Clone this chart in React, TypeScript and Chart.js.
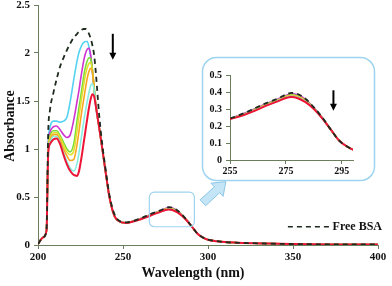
import React, { useEffect, useRef } from "react";
import { Chart, registerables } from "chart.js";

Chart.register(...registerables);

// ---------- data ----------
const WAVELENGTHS = [200, 203, 205, 206, 207, 209, 211, 213, 215, 217, 219, 221, 223, 224, 225, 226, 227, 228, 229, 230, 231, 232, 233, 234, 236, 238, 240, 242, 245, 248, 252, 256, 260, 264, 268, 272, 275, 277, 279, 282, 285, 288, 291, 294, 297, 300, 305, 310, 320, 335, 350, 375, 400];

const FREE_BSA = [0.01, 0.08, 0.15, 1.17, 1.4, 1.58, 1.73, 1.86, 1.95, 2.03, 2.1, 2.16, 2.2, 2.22, 2.23, 2.245, 2.25, 2.25, 2.23, 2.2, 2.15, 2.08, 1.98, 1.8, 1.35, 1.02, 0.76, 0.52, 0.32, 0.25, 0.235, 0.25, 0.275, 0.305, 0.335, 0.36, 0.385, 0.395, 0.39, 0.36, 0.31, 0.25, 0.18, 0.115, 0.078, 0.055, 0.04, 0.03, 0.022, 0.015, 0.01, 0.006, 0.005];
const CYAN = [0.01, 0.08, 0.15, 1.05, 1.22, 1.29, 1.29, 1.28, 1.29, 1.33, 1.5, 1.72, 1.92, 2.0, 2.05, 2.09, 2.11, 2.12, 2.12, 2.06, 1.95, 1.8, 1.62, 1.45, 1.22, 0.98, 0.73, 0.5, 0.3, 0.245, 0.23, 0.25, 0.272, 0.3, 0.33, 0.355, 0.378, 0.387, 0.382, 0.355, 0.306, 0.249, 0.18, 0.115, 0.078, 0.055, 0.04, 0.03, 0.022, 0.015, 0.01, 0.006, 0.005];
const MAGENTA = [0.01, 0.08, 0.15, 1.02, 1.17, 1.23, 1.24, 1.2, 1.15, 1.12, 1.15, 1.3, 1.5, 1.6, 1.72, 1.83, 1.93, 2.0, 2.04, 2.05, 1.98, 1.82, 1.63, 1.45, 1.22, 0.98, 0.73, 0.5, 0.3, 0.245, 0.23, 0.25, 0.273, 0.302, 0.332, 0.357, 0.38, 0.39, 0.385, 0.357, 0.308, 0.25, 0.18, 0.115, 0.078, 0.055, 0.04, 0.03, 0.022, 0.015, 0.01, 0.006, 0.005];
const GREEN = [0.01, 0.08, 0.15, 1.0, 1.13, 1.19, 1.19, 1.14, 1.07, 1.0, 0.97, 1.05, 1.3, 1.42, 1.53, 1.65, 1.77, 1.86, 1.92, 1.95, 1.94, 1.83, 1.64, 1.46, 1.22, 0.98, 0.73, 0.5, 0.3, 0.245, 0.23, 0.248, 0.27, 0.298, 0.328, 0.353, 0.375, 0.383, 0.378, 0.352, 0.305, 0.248, 0.18, 0.115, 0.078, 0.055, 0.04, 0.03, 0.022, 0.015, 0.01, 0.006, 0.005];
const YELLOW = [0.01, 0.08, 0.15, 0.99, 1.11, 1.17, 1.17, 1.12, 1.04, 0.97, 0.94, 0.98, 1.2, 1.33, 1.45, 1.57, 1.68, 1.78, 1.85, 1.89, 1.9, 1.82, 1.64, 1.46, 1.22, 0.98, 0.73, 0.5, 0.3, 0.245, 0.23, 0.247, 0.269, 0.296, 0.326, 0.351, 0.373, 0.38, 0.375, 0.349, 0.304, 0.247, 0.18, 0.115, 0.078, 0.055, 0.04, 0.03, 0.022, 0.015, 0.01, 0.006, 0.005];
const ORANGE = [0.01, 0.08, 0.15, 0.98, 1.09, 1.15, 1.15, 1.09, 1.0, 0.93, 0.88, 0.89, 1.05, 1.17, 1.3, 1.42, 1.53, 1.64, 1.74, 1.81, 1.84, 1.8, 1.64, 1.46, 1.22, 0.98, 0.73, 0.5, 0.3, 0.245, 0.23, 0.247, 0.268, 0.294, 0.324, 0.349, 0.371, 0.377, 0.372, 0.347, 0.303, 0.247, 0.18, 0.115, 0.078, 0.055, 0.04, 0.03, 0.022, 0.015, 0.01, 0.006, 0.005];
const TURQUOISE = [0.01, 0.08, 0.15, 0.97, 1.07, 1.13, 1.13, 1.06, 0.96, 0.87, 0.8, 0.77, 0.85, 0.95, 1.06, 1.18, 1.3, 1.4, 1.5, 1.59, 1.66, 1.68, 1.62, 1.46, 1.22, 0.98, 0.73, 0.5, 0.3, 0.245, 0.23, 0.246, 0.267, 0.292, 0.322, 0.347, 0.368, 0.374, 0.369, 0.344, 0.302, 0.246, 0.18, 0.115, 0.078, 0.055, 0.04, 0.03, 0.022, 0.015, 0.01, 0.006, 0.005];
const RED = [0.01, 0.08, 0.15, 0.95, 1.05, 1.1, 1.11, 1.05, 0.94, 0.84, 0.77, 0.73, 0.72, 0.76, 0.85, 0.96, 1.08, 1.2, 1.32, 1.43, 1.52, 1.57, 1.55, 1.45, 1.22, 0.98, 0.73, 0.5, 0.3, 0.245, 0.23, 0.245, 0.265, 0.29, 0.32, 0.345, 0.365, 0.37, 0.365, 0.34, 0.3, 0.245, 0.18, 0.115, 0.078, 0.055, 0.04, 0.03, 0.022, 0.015, 0.01, 0.006, 0.005];

const MAIN_X_TICKS = [200, 250, 300, 350, 400];
const MAIN_Y_TICKS = [0, 0.5, 1, 1.5, 2, 2.5];
const INSET_X_TICKS = [255, 275, 295];
const INSET_Y_TICKS = [0, 0.1, 0.2, 0.3, 0.4, 0.5];

const LEGEND_LABEL = "Free BSA";
const X_TITLE = "Wavelength (nm)";
const Y_TITLE = "Absorbance";

// series styling (first drawn on top)
const SERIES = [
  { label: "Free BSA", values: FREE_BSA, color: "#1e2b1e", width: 1.8, dash: [5, 4] },
  { label: "7", values: RED, color: "#ee1436", width: 2, dash: [] },
  { label: "6", values: TURQUOISE, color: "#86eee0", width: 1.6, dash: [] },
  { label: "5", values: ORANGE, color: "#f7a81e", width: 1.6, dash: [] },
  { label: "4", values: YELLOW, color: "#e2e030", width: 1.6, dash: [] },
  { label: "3", values: GREEN, color: "#7ade36", width: 1.6, dash: [] },
  { label: "2", values: MAGENTA, color: "#cf34cf", width: 1.6, dash: [] },
  { label: "1", values: CYAN, color: "#55d2f2", width: 1.6, dash: [] },
];

// annotation anchors in data units
const ZOOM_BOX = { x0: 265.5, x1: 292, y0: 0.19, y1: 0.55 };
const BLOCK_ARROW = { x0: 297, y0: 0.44, x1: 310.5, y1: 0.66 };
const MAIN_ARROW = { x: 244, y0: 2.2, y1: 1.93 };
const INSET_ARROW = { x: 292, y0: 0.41, y1: 0.29 };
const LEGEND_POS = { x0: 347, x1: 371.5, y: 0.19 };

const FONT = "'Liberation Serif', 'Times New Roman', serif";
const AXIS_COLOR = "#6a7d5c";
const BOX_COLOR = "#9fd4f0";

function drawDownArrow(ctx: CanvasRenderingContext2D, x: number, yTop: number, yBot: number) {
  ctx.save();
  ctx.strokeStyle = "#000";
  ctx.fillStyle = "#000";
  ctx.lineWidth = 2;
  ctx.beginPath();
  ctx.moveTo(x, yTop);
  ctx.lineTo(x, yBot - 6);
  ctx.stroke();
  ctx.beginPath();
  ctx.moveTo(x - 3.5, yBot - 7);
  ctx.lineTo(x + 3.5, yBot - 7);
  ctx.lineTo(x, yBot);
  ctx.closePath();
  ctx.fill();
  ctx.restore();
}

const mainAnnotations = {
  id: "mainAnnotations",
  afterDatasetsDraw(chart: any) {
    const { ctx, scales } = chart;
    const x = scales.x;
    const y = scales.y;
    ctx.save();

    // inset frame
    ctx.strokeStyle = BOX_COLOR;
    ctx.lineWidth = 1.5;
    ctx.fillStyle = "#ffffff";
    ctx.beginPath();
    ctx.roundRect(202.5, 57.5, 172, 123, 14);
    ctx.fill();
    ctx.stroke();

    // zoom box
    const bx0 = x.getPixelForValue(ZOOM_BOX.x0);
    const bx1 = x.getPixelForValue(ZOOM_BOX.x1);
    const by0 = y.getPixelForValue(ZOOM_BOX.y1);
    const by1 = y.getPixelForValue(ZOOM_BOX.y0);
    ctx.lineWidth = 1.2;
    ctx.beginPath();
    ctx.roundRect(bx0, by0, bx1 - bx0, by1 - by0, 5);
    ctx.stroke();

    // block arrow
    const ax0 = x.getPixelForValue(BLOCK_ARROW.x0);
    const ay0 = y.getPixelForValue(BLOCK_ARROW.y0);
    const ax1 = x.getPixelForValue(BLOCK_ARROW.x1);
    const ay1 = y.getPixelForValue(BLOCK_ARROW.y1);
    const dx = ax1 - ax0;
    const dy = ay1 - ay0;
    const len = Math.hypot(dx, dy);
    const ux = dx / len;
    const uy = dy / len;
    const nx = -uy;
    const ny = ux;
    const shaft = 4;
    const head = 9;
    const headLen = 12;
    const hx = ax1 - ux * headLen;
    const hy = ay1 - uy * headLen;
    ctx.beginPath();
    ctx.moveTo(ax0 + nx * shaft, ay0 + ny * shaft);
    ctx.lineTo(hx + nx * shaft, hy + ny * shaft);
    ctx.lineTo(hx + nx * head, hy + ny * head);
    ctx.lineTo(ax1, ay1);
    ctx.lineTo(hx - nx * head, hy - ny * head);
    ctx.lineTo(hx - nx * shaft, hy - ny * shaft);
    ctx.lineTo(ax0 - nx * shaft, ay0 - ny * shaft);
    ctx.closePath();
    ctx.fillStyle = "#c4e5f6";
    ctx.fill();
    ctx.strokeStyle = "#8cc6e6";
    ctx.lineWidth = 1;
    ctx.stroke();

    // main arrow
    drawDownArrow(ctx, x.getPixelForValue(MAIN_ARROW.x), y.getPixelForValue(MAIN_ARROW.y0), y.getPixelForValue(MAIN_ARROW.y1));

    // legend
    const ly = y.getPixelForValue(LEGEND_POS.y);
    ctx.strokeStyle = "#1e2b1e";
    ctx.lineWidth = 1.5;
    ctx.setLineDash([5, 4]);
    ctx.beginPath();
    ctx.moveTo(x.getPixelForValue(LEGEND_POS.x0), ly);
    ctx.lineTo(x.getPixelForValue(LEGEND_POS.x1), ly);
    ctx.stroke();
    ctx.setLineDash([]);
    ctx.fillStyle = "#111";
    ctx.font = `bold 12px ${FONT}`;
    ctx.textAlign = "left";
    ctx.textBaseline = "middle";
    ctx.fillText(LEGEND_LABEL, x.getPixelForValue(LEGEND_POS.x1) + 3, ly);

    // axis titles
    ctx.font = `bold 14px ${FONT}`;
    ctx.textAlign = "center";
    ctx.fillText(X_TITLE, 193, 273);
    ctx.save();
    ctx.translate(10, 126);
    ctx.rotate(-Math.PI / 2);
    ctx.fillText(Y_TITLE, 0, 0);
    ctx.restore();

    ctx.restore();
  },
};

const insetAnnotations = {
  id: "insetAnnotations",
  afterDatasetsDraw(chart: any) {
    const { ctx, scales } = chart;
    drawDownArrow(ctx, scales.x.getPixelForValue(INSET_ARROW.x), scales.y.getPixelForValue(INSET_ARROW.y0), scales.y.getPixelForValue(INSET_ARROW.y1));
  },
};

function makeDatasets() {
  return SERIES.map((s) => ({
    label: s.label,
    data: WAVELENGTHS.map((w, i) => ({ x: w, y: s.values[i] })),
    borderColor: s.color,
    backgroundColor: s.color,
    borderWidth: s.width,
    borderDash: s.dash,
    pointRadius: 0,
    fill: false,
    cubicInterpolationMode: "monotone" as const,
  }));
}

function axis(min: number, max: number, ticks: number[], size: number, fit: (s: any) => void, tickPad: number) {
  return {
    type: "linear" as const,
    min,
    max,
    afterBuildTicks: (s: any) => {
      s.ticks = ticks.map((v) => ({ value: v }));
    },
    afterFit: fit,
    grid: { display: true, drawOnChartArea: false, drawTicks: true, tickLength: 4, color: AXIS_COLOR },
    border: { display: true, color: AXIS_COLOR, width: 1 },
    ticks: {
      font: { family: FONT, size, weight: "bold" as const },
      color: "#111",
      padding: tickPad,
      maxRotation: 0,
      autoSkip: false,
      callback: (v: any) => String(v),
    },
  };
}

export default function App() {
  const mainRef = useRef<HTMLCanvasElement>(null);
  const insetRef = useRef<HTMLCanvasElement>(null);

  useEffect(() => {
    document.body.style.margin = "0";
    const main = new Chart(mainRef.current!, {
      type: "line",
      data: { datasets: makeDatasets() as any },
      options: {
        responsive: false,
        animation: false,
        layout: { padding: { left: 0, right: 14, top: 5, bottom: 0 } },
        plugins: { legend: { display: false }, tooltip: { enabled: false } },
        scales: {
          x: axis(200, 400, MAIN_X_TICKS, 11, (s: any) => {
            s.height = 41;
            s.paddingLeft = 0;
            s.paddingRight = 0;
          }, 2),
          y: axis(0, 2.5, MAIN_Y_TICKS, 11, (s: any) => {
            s.width = 38;
            s.paddingTop = 0;
            s.paddingBottom = 0;
          }, 4),
        },
      } as any,
      plugins: [mainAnnotations],
    });

    const inset = new Chart(insetRef.current!, {
      type: "line",
      data: { datasets: makeDatasets() as any },
      options: {
        responsive: false,
        animation: false,
        layout: { padding: { left: 0, right: 22, top: 18, bottom: 0 } },
        plugins: { legend: { display: false }, tooltip: { enabled: false } },
        scales: {
          x: axis(255, 299, INSET_X_TICKS, 10, (s: any) => {
            s.height = 21;
            s.paddingLeft = 0;
            s.paddingRight = 0;
          }, 1),
          y: axis(0, 0.5, INSET_Y_TICKS, 10, (s: any) => {
            s.width = 28;
            s.paddingTop = 0;
            s.paddingBottom = 0;
          }, 4),
        },
      } as any,
      plugins: [insetAnnotations],
    });

    return () => {
      main.destroy();
      inset.destroy();
    };
  }, []);

  return (
    <div style={{ position: "fixed", left: 0, top: 0, width: 392, height: 286, background: "#fff" }}>
      <canvas ref={mainRef} width={392} height={286} style={{ position: "absolute", left: 0, top: 0 }} />
      <canvas ref={insetRef} width={173} height={124} style={{ position: "absolute", left: 202, top: 57 }} />
    </div>
  );
}
